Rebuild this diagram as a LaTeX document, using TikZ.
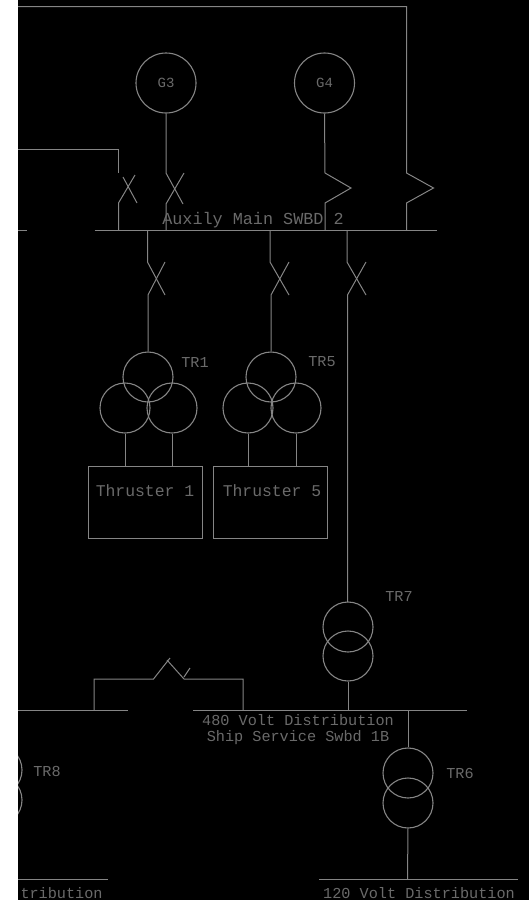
\documentclass[tikz,border=0pt]{standalone}
\usepackage{fontspec}
\setmainfont{Liberation Mono}
\definecolor{ln}{HTML}{858585}
\definecolor{tx}{HTML}{6A6A6A}
\tikzset{
  wire/.style={draw=ln,line width=0.5pt},
  coil/.style={circle,draw=ln,line width=0.55pt,inner sep=0pt,minimum size=25pt},
  gen/.style={coil,minimum size=30pt,text=tx,font=\fontsize{7pt}{8pt}\selectfont},
  load/.style={rectangle,draw=ln,line width=0.5pt,minimum width=57pt,minimum height=36pt,inner sep=0pt},
  lab/.style={text=tx,inner sep=0pt,font=\fontsize{7.6pt}{9pt}\selectfont},
  labw/.style={lab,font=\fontsize{8.2pt}{9pt}\selectfont},
}
\begin{document}
\begin{tikzpicture}[x=0.5pt,y=-0.5pt]
\useasboundingbox (0,0) rectangle (529,900);
\fill[white] (0,0) rectangle (18,900);
\fill[black] (18,0) rectangle (529,900);
\begin{scope}
\clip (18,0) rectangle (529,900);
% coordinates
\coordinate (topL) at (18,6.5);
\coordinate (topR) at (406.5,6.5);
\coordinate (feedL) at (18,149);
\coordinate (feedR) at (118.5,149);
\coordinate (b1a) at (18,230); \coordinate (b1b) at (27,230);
\coordinate (b1c) at (94.5,230); \coordinate (b1d) at (437,230);
\coordinate (b2a) at (18,710); \coordinate (b2b) at (128,710);
\coordinate (b2c) at (193,710); \coordinate (b2d) at (467,710);
\coordinate (b3a) at (18,879); \coordinate (b3b) at (108,879);
\coordinate (b3c) at (319,879); \coordinate (b3d) at (518,879);
% buses
\draw[wire] (b1a) -- (b1b);
\draw[wire] (b1c) -- (b1d);
\draw[wire] (b2a) -- (b2b);
\draw[wire] (b2c) -- (b2d);
\draw[wire] (b3a) -- (b3b);
\draw[wire] (b3c) -- (b3d);
% generators
\node[gen] (G3) at (166,83) {G3};
\node[gen] (G4) at (324.5,83) {G4};
% top feeders
\draw[wire] (topL) -- (topR) -- (406.5,173) -- (433.5,188) -- (406.5,203) -- (406.5,230);
\draw[wire] (feedL) -- (feedR) -- (118.5,173);
\draw[wire] (135,175) -- (118.5,203) -- (118.5,230);
\draw[wire] (123,177) -- (137,203);
\draw[wire] (G3.south) -- (166,173) -- (183,204);
\draw[wire] (184,173) -- (166,204) -- (166,230);
\draw[wire] (G4.south) -- (325,173) -- (351,188) -- (325,203) -- (325,230);
% transformers TR1 / TR5
\node[coil] (T1a) at (148,377) {};
\node[coil] (T1b) at (125,408) {};
\node[coil] (T1c) at (172,408) {};
\node[coil] (T5a) at (271,377) {};
\node[coil] (T5b) at (248,408) {};
\node[coil] (T5c) at (296,408) {};
\node[load] (Th1) at (145,502) {};
\node[load] (Th5) at (270,502) {};
\node[labw] at (145,491) {Thruster 1};
\node[labw] at (272,491) {Thruster 5};
\draw[wire] (147.5,230) -- (147.5,262) -- (165,295);
\draw[wire] (165,262) -- (148,295) -- (T1a.north);
\draw[wire] (270,230) -- (270,262) -- (289,295);
\draw[wire] (289,262) -- (271,295) -- (T5a.north);
\draw[wire] (347,230) -- (347,262) -- (366,295);
\draw[wire] (366,262) -- (347.5,295) -- (347.5,602);
\draw[wire] (T1b.south) -- (125,466);
\draw[wire] (T1c.south) -- (172,466);
\draw[wire] (T5b.south) -- (248,466);
\draw[wire] (T5c.south) -- (296,466);
% TR7
\node[coil] (T7a) at (348,627) {};
\node[coil] (T7b) at (348,656) {};
\draw[wire] (T7b.south) -- (348,710);
% tie
\draw[wire] (94,710) -- (94,679) -- (153.5,679) -- (170,658);
\draw[wire] (167,660) -- (184,679) -- (243,679) -- (243,710);
\draw[wire] (184,677) -- (190,668);
% TR6
\node[coil] (T6a) at (408,773) {};
\node[coil] (T6b) at (408,803) {};
\draw[wire] (408,710) -- (T6a.north);
\draw[wire] (T6b.south) -- (407.5,879);
% TR8 (cut)
\node[coil] (T8a) at (-3,770) {};
\node[coil] (T8b) at (-3,800) {};
% labels
\node[labw,font=\fontsize{8.4pt}{9pt}\selectfont] at (253,220) {Auxily Main SWBD 2};
\node[lab] at (195,362) {TR1};
\node[lab] at (322,362) {TR5};
\node[lab] at (399,596) {TR7};
\node[lab] at (460,773) {TR6};
\node[lab] at (47,771) {TR8};
\node[lab] at (298,720) {480 Volt Distribution};
\node[lab] at (298,738) {Ship Service Swbd 1B};
\node[lab] at (419,893) {120 Volt Distribution};
\node[lab,anchor=east] at (103,893) {tribution};
\end{scope}
\end{tikzpicture}
\end{document}
